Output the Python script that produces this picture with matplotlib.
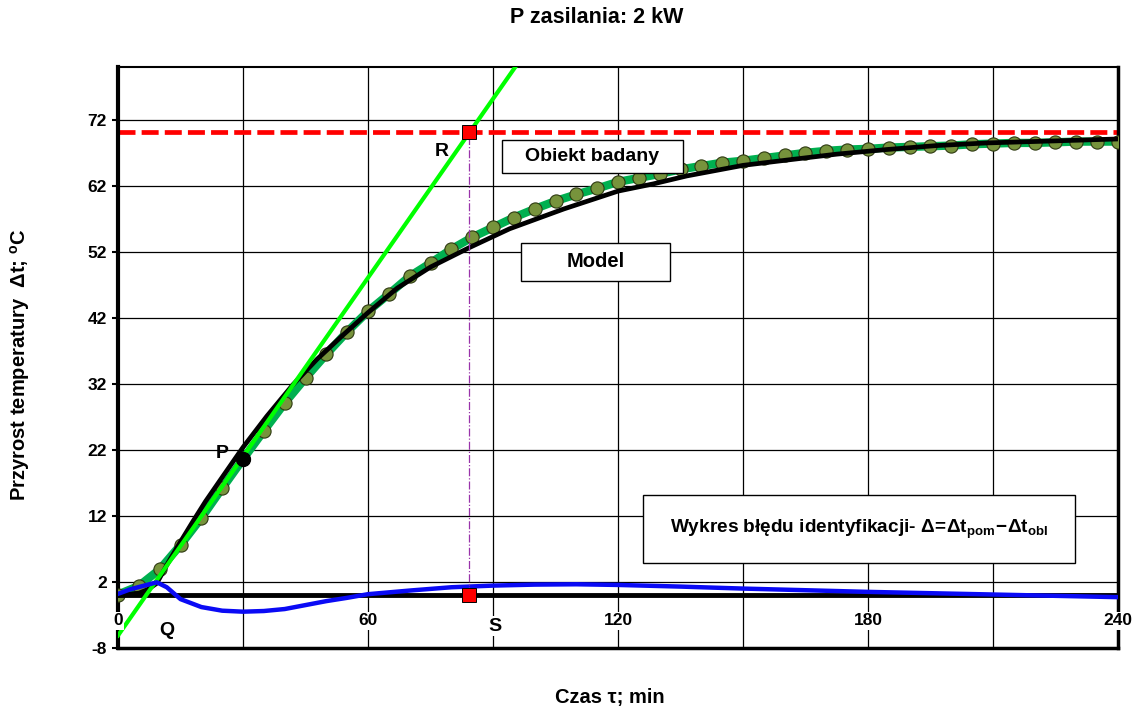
import matplotlib
matplotlib.use("Agg")
import matplotlib.pyplot as plt
from matplotlib.patches import Rectangle

plt.rcParams['font.family'] = ['Liberation Sans', 'DejaVu Sans']
plt.rcParams['font.weight'] = 'bold'
plt.rcParams['axes.unicode_minus'] = False
plt.rcParams['mathtext.fontset'] = 'custom'
plt.rcParams['mathtext.rm'] = 'Liberation Sans:bold'
plt.rcParams['mathtext.bf'] = 'Liberation Sans:bold'
plt.rcParams['mathtext.it'] = 'Liberation Sans:bold'

# obiekt badany - pomiary co 5 min
t_pom = list(range(0, 241, 5))
dt_pom = [0.1, 1.4, 3.9, 7.6, 11.7, 16.2, 20.6, 24.9, 29.1, 32.9,
          36.5, 39.9, 43.0, 45.6, 48.3, 50.3, 52.4, 54.2, 55.7, 57.2,
          58.5, 59.7, 60.7, 61.6, 62.6, 63.2, 63.8, 64.5, 65.0, 65.5,
          65.8, 66.2, 66.6, 67.0, 67.3, 67.5, 67.6, 67.8, 67.9, 68.0,
          68.1, 68.3, 68.4, 68.5, 68.5, 68.6, 68.7, 68.7, 68.7]

# model
t_mod = [0, 5, 7, 9.3, 12, 15, 18, 21, 24.5, 30, 35.7, 42, 47.7, 54, 60,
         67, 75, 84.5, 94, 107, 120, 128.5, 136.5, 150, 160.5, 172.5,
         184.5, 196.5, 208.5, 224.5, 240]
dt_mod = [0, 0.3, 0.8, 1.8, 4.9, 8.1, 11.2, 14.2, 17.4, 22.4, 27.1, 31.9,
          35.7, 39.4, 42.8, 46.5, 49.7, 52.7, 55.5, 58.5, 61.2, 62.3, 63.5,
          65.1, 65.9, 66.8, 67.5, 68.1, 68.5, 68.8, 69.1]

# blad identyfikacji
t_err = [0, 3, 6, 9.3, 11.7, 15, 20, 25, 30, 35, 40, 45, 50, 55, 60, 70,
         80, 90, 100, 110, 120, 135, 150, 165, 180, 195, 210, 225, 240]
err = [0.2, 0.9, 1.4, 1.95, 1.2, -0.6, -1.8, -2.35, -2.5, -2.4, -2.1, -1.5,
       -0.9, -0.4, 0.15, 0.7, 1.2, 1.45, 1.6, 1.65, 1.55, 1.3, 1.0, 0.75,
       0.5, 0.3, 0.1, -0.1, -0.3]

# styczna w punkcie P
t_tan = [0, 97]
dt_tan = [-6.1, 81.5]
dt_ust = 70.1
t_R = 84.3
P = (30, 20.7)

xticks = [0, 60, 120, 180, 240]
yticks = list(range(-8, 73, 10))

fig = plt.figure(figsize=(11.35, 7.12), dpi=100)
ax = fig.add_axes([0.104, 0.0899, 0.881, 0.816])
ax.set_xlim(0, 240)
ax.set_ylim(-8, 80)

# siatka
ax.set_yticks(yticks)
ax.set_xticks(xticks)
ax.set_xticks(list(range(0, 241, 30)), minor=True)
ax.grid(which='both', color='black', lw=0.9, zorder=0)
ax.set_axisbelow(True)

ax.axhline(dt_ust, color='red', lw=3.4, ls=(0, (3.6, 1.3)), zorder=2)
ax.plot(t_pom, dt_pom, color='#00B050', lw=6, zorder=3)
ax.plot(t_pom, dt_pom, 'o', ms=9.5, mfc='#77933C', mec='#2F3A12', mew=0.8, zorder=4)
ax.plot(t_mod, dt_mod, color='black', lw=3.4, zorder=5)
ax.plot(t_tan, dt_tan, color='#00FF00', lw=3, zorder=6)
ax.axhline(0, color='black', lw=3.5, zorder=5)
ax.plot(t_err, err, color='#0A0AF5', lw=3.2, zorder=6)
ax.plot([t_R, t_R], [0, dt_ust], color='#9933AA', lw=0.9, ls='-.', zorder=7)
ax.plot(*P, 'o', ms=10, color='black', zorder=8)
ax.plot([t_R, t_R], [dt_ust, 0], 's', ms=10, mfc='red', mec='black', mew=0.7,
        zorder=9, clip_on=False)

# opisy punktow
ax.text(25.0, 21.5, 'P', fontsize=14, ha='center', va='center', zorder=10)
ax.text(77.7, 67.2, 'R', fontsize=14, ha='center', va='center', zorder=10)
ax.text(11.7, -5.4, 'Q', fontsize=14, ha='center', va='center', zorder=10)
ax.text(90.5, -4.7, 'S', fontsize=14, ha='center', va='center', zorder=10,
        bbox=dict(facecolor='white', edgecolor='none', pad=1))

for x in xticks:
    ax.text(x, -3.9, str(x), fontsize=12.5, ha='center', va='center', zorder=10,
            bbox=dict(facecolor='white', edgecolor='none', pad=1))

# ramki z opisami
ax.add_patch(Rectangle((92.1, 64.0), 43.4, 5.0, facecolor='white',
                       edgecolor='black', lw=1, zorder=9))
ax.text(113.8, 66.5, 'Obiekt badany', fontsize=14, ha='center', va='center', zorder=10)
ax.add_patch(Rectangle((96.6, 47.65), 35.9, 5.7, facecolor='white',
                       edgecolor='black', lw=1, zorder=9))
ax.text(114.6, 50.5, 'Model', fontsize=14.5, ha='center', va='center', zorder=10)
ax.add_patch(Rectangle((125.9, 4.9), 103.8, 10.3, facecolor='white',
                       edgecolor='black', lw=1, zorder=9))
ax.text(177.8, 10.0, 'Wykres błędu identyfikacji- $\\mathbf{Δ\\!=\\!Δt_{pom}\\!-\\!Δt_{obl}}$',
        fontsize=13.7, ha='center', va='center', zorder=10)

# osie
ax.tick_params(axis='x', which='both', labelbottom=False, length=0)
ax.tick_params(axis='y', labelsize=12.5, length=4, width=1.5, direction='out', pad=4)
for lab in ax.get_yticklabels():
    lab.set_fontweight('bold')
ax.spines['left'].set_linewidth(3)
ax.spines['right'].set_linewidth(2.5)
ax.spines['top'].set_linewidth(1.5)
ax.spines['bottom'].set_linewidth(2.5)

fig.text(0.526, 0.975, 'P zasilania: 2 kW', fontsize=15.5, ha='center', va='center')
fig.text(0.537, 0.021, 'Czas τ; min', fontsize=14.5, ha='center', va='center')
fig.text(0.018, 0.488, 'Przyrost temperatury  Δt; $^{\\mathbf{o}}$C', fontsize=14.5,
         ha='center', va='center', rotation=90)

fig.savefig('out.png', dpi=100)
